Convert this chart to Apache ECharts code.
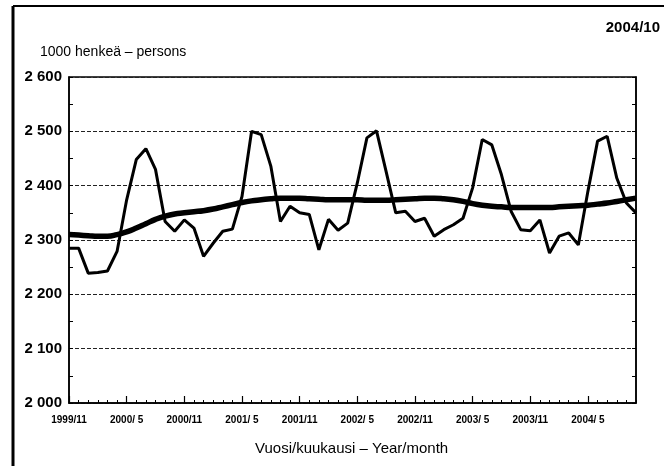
<!DOCTYPE html>
<html lang="fi">
<head>
    <meta charset="UTF-8">
    <title>Työlliset</title>
    <script src="https://cdn.jsdelivr.net/npm/echarts@6/dist/echarts.min.js"></script>
    <style>
        html, body { margin: 0; padding: 0; background: #fff; }
        #main { width: 664px; height: 466px; }
    </style>
</head>
<body>
    <div id="main"></div>
    <script>
        // kuukaudet 1999/11 - 2004/10
        var startYear = 1999, startMonth = 11, monthCount = 60;
        var months = [];
        for (var i = 0; i < monthCount; i++) {
            var m = startMonth - 1 + i;
            var y = startYear + Math.floor(m / 12);
            var mm = m % 12 + 1;
            months.push(y + '/' + (mm < 10 ? ' ' + mm : mm));
        }

        // työlliset, alkuperäinen sarja (1000 henkeä)
        var employed = [
            2285, 2285, 2239, 2240, 2243, 2279, 2374, 2448, 2468, 2430,
            2334, 2316, 2337, 2322, 2270, 2294, 2316, 2320, 2380, 2500,
            2494, 2436, 2334, 2362, 2350, 2347, 2282, 2338, 2318, 2331,
            2405, 2488, 2501, 2426, 2350, 2353, 2334, 2340, 2307, 2319,
            2328, 2340, 2396, 2485, 2475, 2420, 2353, 2319, 2317, 2337,
            2276, 2307, 2313, 2291, 2390, 2482, 2491, 2414, 2368, 2350
        ];
        // trendi
        var trend = [
            2310, 2309, 2308, 2307, 2307, 2310, 2315, 2322, 2330, 2338,
            2344, 2348, 2350, 2352, 2354, 2357, 2361, 2365, 2369, 2372,
            2374, 2376, 2377, 2377, 2377, 2376, 2375, 2374, 2374, 2374,
            2374, 2373, 2373, 2373, 2374, 2375, 2376, 2377, 2377, 2376,
            2374, 2371, 2367, 2364, 2362, 2361, 2360, 2360, 2360, 2360,
            2360, 2361, 2362, 2363, 2364, 2366, 2368, 2371, 2374, 2377
        ];

        var font = '"Liberation Sans Narrow", "Arial Narrow", "Liberation Sans", Arial, sans-serif';

        var chart = echarts.init(document.getElementById('main'));
        chart.setOption({
            animation: false,
            backgroundColor: '#fff',
            grid: {
                left: 69, right: 28, top: 77, bottom: 63,
                show: true,
                borderColor: '#000',
                borderWidth: 1.5
            },
            graphic: [
                { type: 'line', shape: { x1: 13, y1: 6, x2: 664, y2: 6 }, style: { stroke: '#000', lineWidth: 2 } },
                { type: 'line', shape: { x1: 13, y1: 6, x2: 13, y2: 466 }, style: { stroke: '#000', lineWidth: 3 } },
                { type: 'text', right: 4, top: 20, style: { text: '2004/10', font: 'bold 15px ' + font, fill: '#000' } },
                { type: 'text', left: 40, top: 45, style: { text: '1000 henkeä – persons', font: '14px ' + font, fill: '#000' } },
                { type: 'text', left: 255, top: 441, style: { text: 'Vuosi/kuukausi – Year/month', font: '15px ' + font, fill: '#000' } }
            ],
            xAxis: [{
                type: 'category',
                data: months,
                boundaryGap: false,
                axisLine: { lineStyle: { color: '#000', width: 1.5 } },
                axisTick: { show: true, inside: true, interval: 0, length: 3, lineStyle: { color: '#000', width: 1 } },
                axisLabel: {
                    interval: 5,
                    margin: 12,
                    color: '#000',
                    fontFamily: font,
                    fontWeight: 'bold',
                    fontSize: 10
                },
                splitLine: { show: false }
            }, {
                type: 'category',
                data: months,
                boundaryGap: false,
                position: 'bottom',
                axisLine: { show: false },
                axisTick: { show: true, inside: true, interval: 5, length: 7, lineStyle: { color: '#000', width: 1.2 } },
                axisLabel: { show: false },
                splitLine: { show: false }
            }],
            yAxis: [{
                type: 'value',
                min: 2000,
                max: 2600,
                interval: 100,
                axisLine: { show: true, lineStyle: { color: '#000', width: 1.5 } },
                axisTick: { show: true, inside: true, length: 4, lineStyle: { color: '#000' } },
                minorTick: { show: true, splitNumber: 2, length: 4, lineStyle: { color: '#000' } },
                axisLabel: {
                    margin: 7,
                    color: '#000',
                    fontFamily: font,
                    fontWeight: 'bold',
                    fontSize: 15,
                    formatter: function (v) {
                        var s = String(v);
                        return s.slice(0, 1) + ' ' + s.slice(1);
                    }
                },
                splitLine: { show: true, lineStyle: { color: '#222', width: 1, type: [4, 2] } }
            }, {
                type: 'value',
                position: 'right',
                min: 2000,
                max: 2600,
                interval: 100,
                axisLine: { show: true, lineStyle: { color: '#000', width: 1.5 } },
                axisTick: { show: true, inside: true, length: 4, lineStyle: { color: '#000' } },
                minorTick: { show: true, splitNumber: 2, length: 4, lineStyle: { color: '#000' } },
                axisLabel: { show: false },
                splitLine: { show: false }
            }],
            series: [{
                name: 'Työlliset',
                type: 'line',
                data: employed,
                symbol: 'none',
                lineStyle: { color: '#000', width: 3 },
                z: 3
            }, {
                name: 'Trendi',
                type: 'line',
                data: trend,
                smooth: true,
                symbol: 'none',
                lineStyle: { color: '#000', width: 5.5 },
                z: 4
            }]
        });
    </script>
</body>
</html>
